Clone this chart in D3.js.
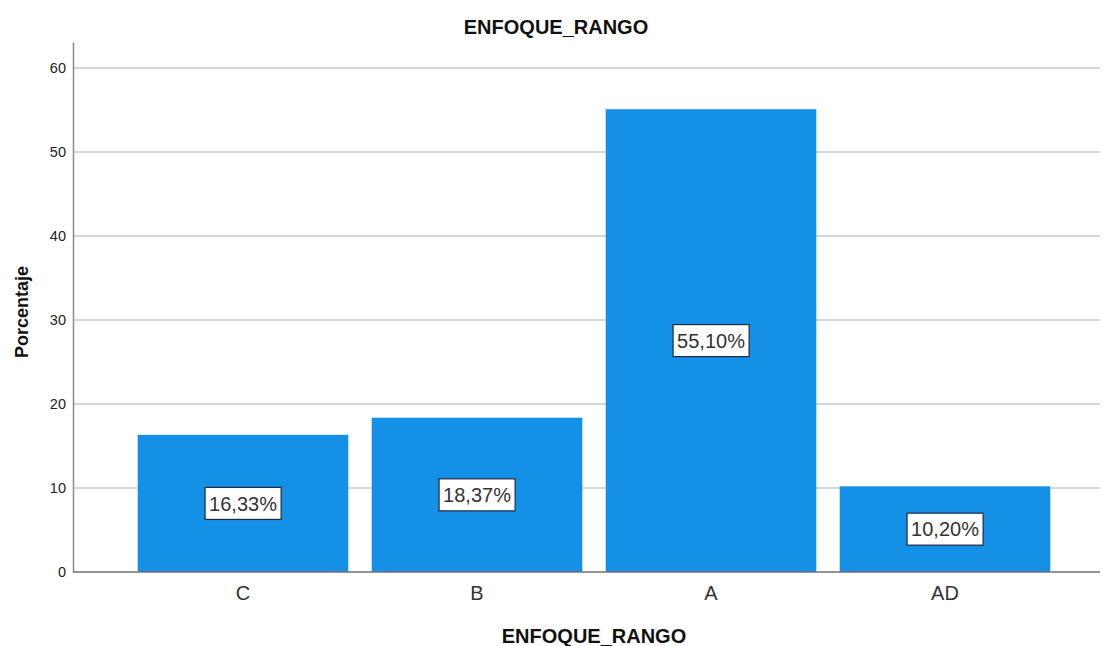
<!DOCTYPE html>
<html><head><meta charset="utf-8">
<script src="https://cdn.jsdelivr.net/npm/d3@7"></script>
<style>
body{margin:0;background:#fff;}
svg{display:block;font-family:"Liberation Sans",Arial,sans-serif;}
</style></head><body>
<svg id="c" width="1103" height="646"></svg>
<script>
const categories = ["C","B","A","AD"];
const values = [16.33, 18.37, 55.10, 10.20];
const labels = ["16,33%","18,37%","55,10%","10,20%"];
const yTicks = [0,10,20,30,40,50,60];
const title = "ENFOQUE_RANGO";
const xTitle = "ENFOQUE_RANGO";
const yTitle = "Porcentaje";

(function(){
const svg = d3.select("#c");
const mLeft = 73, mRight = 1100, mTop = 42, mBottom = 572;

const x = d3.scaleBand().domain(categories).range([126, 1062]).paddingInner(0.1).paddingOuter(0.05);
const y = d3.scaleLinear().domain([0, 63.1]).range([mBottom, mTop]);

// gridlines
svg.append("g").selectAll("line").data(yTicks.filter(d=>d>0)).join("line")
  .attr("x1", mLeft).attr("x2", mRight)
  .attr("y1", d=>y(d)).attr("y2", d=>y(d))
  .attr("stroke", "#c8c8c8").attr("stroke-width", 1.5);

// y axis
const yAxis = d3.axisLeft(y).tickValues(yTicks).tickSize(0).tickPadding(7);
const gy = svg.append("g").attr("transform", `translate(${mLeft},0)`).call(yAxis);
gy.select(".domain").attr("stroke", "#8a8a8a").attr("stroke-width", 1.5);
gy.selectAll("text").attr("font-size", 14.5).attr("fill", "#222").attr("font-family", "Liberation Sans, Arial, sans-serif");

// bars
svg.append("g").selectAll("rect").data(categories).join("rect")
  .attr("x", d=>x(d)).attr("width", x.bandwidth())
  .attr("y", (d,i)=>y(values[i])).attr("height", (d,i)=>y(0)-y(values[i]))
  .attr("fill", "#1490e6");

// x axis
const xAxis = d3.axisBottom(x).tickSize(0).tickPadding(14);
const gx = svg.append("g").attr("transform", `translate(0,${mBottom})`).call(xAxis);
gx.select(".domain").remove();
gx.selectAll("text").attr("font-size", 20).attr("fill", "#333").attr("font-family", "Liberation Sans, Arial, sans-serif");
svg.append("line").attr("x1", mLeft).attr("x2", mRight).attr("y1", mBottom).attr("y2", mBottom)
  .attr("stroke", "#707070").attr("stroke-width", 1.5);

// value labels
const lg = svg.append("g").selectAll("g").data(categories).join("g")
  .attr("transform", (d,i)=>`translate(${x(d)+x.bandwidth()/2},${(y(values[i])+y(0))/2})`);
lg.append("text").attr("text-anchor","middle").attr("dy","0.36em")
  .attr("font-size", 20).attr("fill", "#333")
  .text((d,i)=>labels[i]);
lg.each(function(){
  const g = d3.select(this);
  const bb = g.select("text").node().getBBox();
  g.insert("rect","text").attr("x", bb.x-4).attr("y", -16).attr("width", bb.width+8).attr("height", 32)
    .attr("fill","#fff").attr("stroke","#1c2a44").attr("stroke-width",1.2);
});

// titles
svg.append("text").attr("x", 556).attr("y", 34).attr("text-anchor","middle")
  .attr("font-size", 20).attr("font-weight","bold").attr("fill","#111").text(title);
svg.append("text").attr("x", 594).attr("y", 643).attr("text-anchor","middle")
  .attr("font-size", 20).attr("font-weight","bold").attr("fill","#111").text(xTitle);
svg.append("text").attr("transform","translate(28,312) rotate(-90)").attr("text-anchor","middle")
  .attr("font-size", 18).attr("font-weight","bold").attr("fill","#111").text(yTitle);
})();
</script>
</body></html>
